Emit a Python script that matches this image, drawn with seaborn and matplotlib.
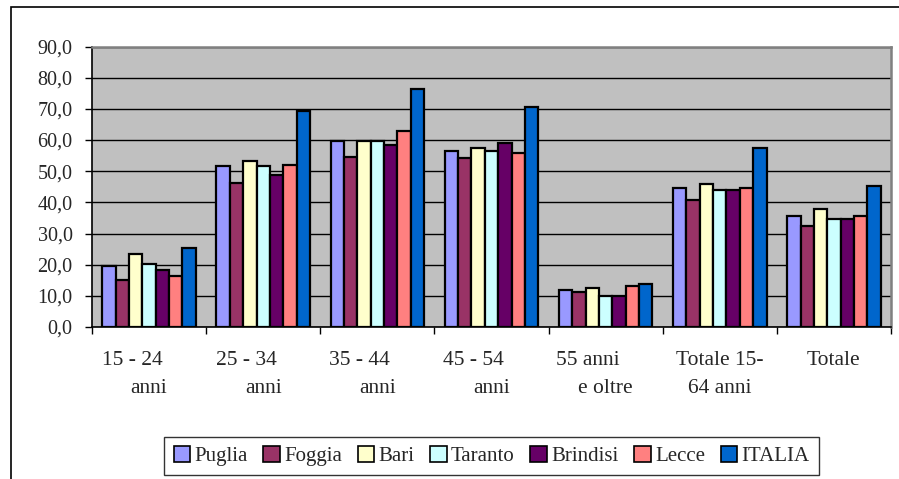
import matplotlib
matplotlib.use("Agg")
import matplotlib.pyplot as plt
from matplotlib.patches import Patch, Rectangle
import seaborn as sns
import pandas as pd

# Age groups (two-line labels) and regions
categories = ["15 - 24\nanni", "25 - 34\nanni", "35 - 44\nanni", "45 - 54\nanni",
              "55 anni\ne oltre", "Totale 15-\n64 anni", "Totale"]
regions = ["Puglia", "Foggia", "Bari", "Taranto", "Brindisi", "Lecce", "ITALIA"]

puglia   = [19.5, 51.5, 59.8, 56.5, 11.9, 44.5, 35.6]
foggia   = [15.1, 46.3, 54.7, 54.2, 11.2, 40.6, 32.4]
bari     = [23.3, 53.3, 59.8, 57.3, 12.6, 45.8, 38.0]
taranto  = [20.2, 51.5, 59.8, 56.5,  9.9, 43.8, 34.8]
brindisi = [18.4, 48.9, 58.5, 59.1,  9.9, 43.9, 34.8]
lecce    = [16.3, 52.0, 63.0, 55.9, 13.3, 44.5, 35.6]
italia   = [25.3, 69.4, 76.4, 70.6, 13.8, 57.3, 45.2]

yticks = [0, 10, 20, 30, 40, 50, 60, 70, 80, 90]

colors = ["#9999FF", "#993366", "#FFFFCC", "#CCFFFF", "#660066", "#FF8080", "#0066CC"]

series = [puglia, foggia, bari, taranto, brindisi, lecce, italia]
rows = []
for reg, vals in zip(regions, series):
    for cat, v in zip(categories, vals):
        rows.append({"cat": cat, "region": reg, "value": v})
df = pd.DataFrame(rows)

sns.set_style("white")
plt.rcParams["font.family"] = ["Liberation Serif", "DejaVu Serif"]

W, H = 899, 479
fig = plt.figure(figsize=(W / 100, H / 100), dpi=100)
ax = fig.add_axes([92 / W, 1 - 327 / H, (891 - 92) / W, (327 - 46.5) / H])
ax.set_facecolor("#C0C0C0")

sns.barplot(data=df, x="cat", y="value", hue="region", order=categories,
            hue_order=regions, palette=colors, width=0.82, edgecolor="black",
            linewidth=1.6, saturation=1, ax=ax, legend=False, zorder=3)

ax.set_ylim(0, 90)
ax.set_xlim(-0.5, len(categories) - 0.5)
ax.set_yticks(yticks)
ax.set_yticklabels([f"{v:.1f}".replace(".", ",") for v in yticks], fontsize=14.5)
ax.yaxis.grid(True, color="black", linewidth=1.0, zorder=1)
ax.set_axisbelow(True)
ax.set_xlabel("")
ax.set_ylabel("")

# category boundaries carry the tick marks
ax.set_xticks([i - 0.5 for i in range(len(categories) + 1)])
ax.set_xticklabels([])
ax.tick_params(axis="both", direction="out", length=5, width=1, color="black",
               bottom=True, left=True)
ax.tick_params(axis="y", pad=9)

for side in ("left", "bottom"):
    ax.spines[side].set_color("black")
    ax.spines[side].set_linewidth(1.2)
for side in ("top", "right"):
    ax.spines[side].set_color("#808080")
    ax.spines[side].set_linewidth(1.8)

# two-line category labels
first_shift = [-17, -17, -18, -18, -18, 0, 0]
for i, (lab, dx) in enumerate(zip(categories, first_shift)):
    lines = lab.split("\n")
    ax.annotate(lines[0], xy=(i, 0), xycoords=("data", "axes fraction"),
                xytext=(dx * 0.72, -38 * 0.72), textcoords="offset points",
                ha="center", va="baseline", fontsize=15.5)
    if len(lines) > 1:
        ax.annotate(lines[1], xy=(i, 0), xycoords=("data", "axes fraction"),
                    xytext=(0, -66 * 0.72), textcoords="offset points",
                    ha="center", va="baseline", fontsize=15.5)

handles = [Patch(facecolor=c, edgecolor="black", linewidth=1.2) for c in colors]
leg = fig.legend(handles, regions, loc="center", bbox_to_anchor=(491.5 / W, 1 - 456 / H),
                 ncol=7, fontsize=15, frameon=True, fancybox=False,
                 handlelength=0.8, handleheight=0.8, handletextpad=0.2,
                 columnspacing=0.75, borderpad=0.45)
leg.get_frame().set_edgecolor("black")
leg.get_frame().set_linewidth(1.0)

# outer chart frame
fig.patches.append(Rectangle((10.5 / W, -0.1), 1.2, 1 - 6.5 / H + 0.1,
                             transform=fig.transFigure, fill=False,
                             edgecolor="black", linewidth=1.2))

fig.savefig("out.png", dpi=100)
